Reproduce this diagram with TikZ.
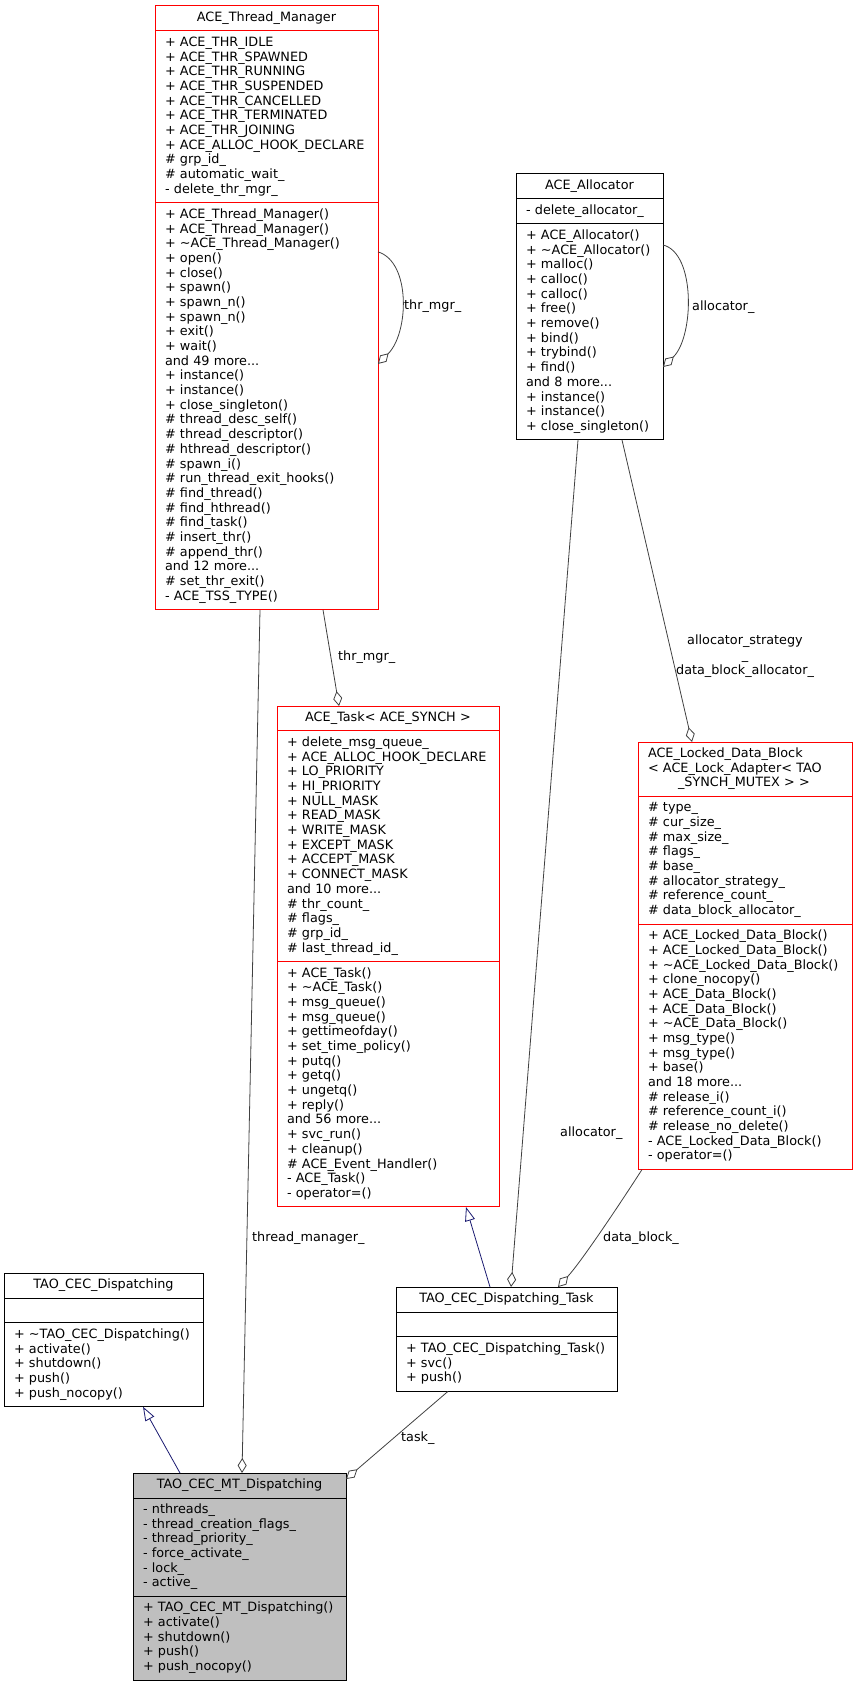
\documentclass[tikz,border=0pt]{standalone}
\usepackage{fontspec}
\setmainfont{DejaVu Sans}
\usetikzlibrary{positioning, arrows.meta}
\definecolor{edgegray}{HTML}{404040}
\definecolor{inhblue}{HTML}{191970}
\newcommand{\ufont}{\fontsize{12.8}{14.69}\selectfont}
\newcommand{\umlclass}[7][]{%
  \node[title, text width=#4-20, #1] (#2) at (#3) {#5};
  \node[members, text width=#4-20, below=0pt of #2, #1] (#2-a) {#6};
  \node[members, text width=#4-20, below=0pt of #2-a, #1] (#2-m) {#7};}

\begin{document}
\begin{tikzpicture}[x=1pt, y=-1pt,
  sect/.style={draw, line width=1pt, outer sep=0pt, inner xsep=10pt, inner ysep=5.15pt, font=\ufont, execute at end node=\strut},
  title/.style={sect, anchor=north west, align=center, execute at begin node=\strut},
  members/.style={sect, align=left, execute at begin node={\rightskip=-20pt plus 1fil\strut}},
  agg/.style={edgegray, line width=0.8pt, -{Diamond[open, length=15pt, width=9pt]}},
  inh/.style={inhblue, line width=0.8pt, -{Triangle[open, length=14pt, width=10pt]}},
  lbl/.style={font=\ufont, inner sep=0pt, anchor=west}]
\useasboundingbox (0,0) rectangle (857,1688);

\umlclass[draw=red]{mgr}{155,6}{223}{ACE\_Thread\_Manager}
 {+ ACE\_THR\_IDLE\\+ ACE\_THR\_SPAWNED\\+ ACE\_THR\_RUNNING\\+ ACE\_THR\_SUSPENDED\\+ ACE\_THR\_CANCELLED\\+ ACE\_THR\_TERMINATED\\+ ACE\_THR\_JOINING\\+ ACE\_ALLOC\_HOOK\_DECLARE\\\# grp\_id\_\\\# automatic\_wait\_\\- delete\_thr\_mgr\_}
 {+ ACE\_Thread\_Manager()\\+ ACE\_Thread\_Manager()\\+ \textasciitilde ACE\_Thread\_Manager()\\+ open()\\+ close()\\+ spawn()\\+ spawn\_n()\\+ spawn\_n()\\+ exit()\\+ wait()\\and 49 more...\\+ instance()\\+ instance()\\+ close\_singleton()\\\# thread\_desc\_self()\\\# thread\_descriptor()\\\# hthread\_descriptor()\\\# spawn\_i()\\\# run\_thread\_exit\_hooks()\\\# find\_thread()\\\# find\_hthread()\\\# find\_task()\\\# insert\_thr()\\\# append\_thr()\\and 12 more...\\\# set\_thr\_exit()\\- ACE\_TSS\_TYPE()}

\umlclass{alloc}{516,174}{147}{ACE\_Allocator}
 {- delete\_allocator\_}
 {+ ACE\_Allocator()\\+ \textasciitilde ACE\_Allocator()\\+ malloc()\\+ calloc()\\+ calloc()\\+ free()\\+ remove()\\+ bind()\\+ trybind()\\+ find()\\and 8 more...\\+ instance()\\+ instance()\\+ close\_singleton()}

\umlclass[draw=red]{task}{277,706}{222}{ACE\_Task< ACE\_SYNCH >}
 {+ delete\_msg\_queue\_\\+ ACE\_ALLOC\_HOOK\_DECLARE\\+ LO\_PRIORITY\\+ HI\_PRIORITY\\+ NULL\_MASK\\+ READ\_MASK\\+ WRITE\_MASK\\+ EXCEPT\_MASK\\+ ACCEPT\_MASK\\+ CONNECT\_MASK\\and 10 more...\\\# thr\_count\_\\\# flags\_\\\# grp\_id\_\\\# last\_thread\_id\_}
 {+ ACE\_Task()\\+ \textasciitilde ACE\_Task()\\+ msg\_queue()\\+ msg\_queue()\\+ gettimeofday()\\+ set\_time\_policy()\\+ putq()\\+ getq()\\+ ungetq()\\+ reply()\\and 56 more...\\+ svc\_run()\\+ cleanup()\\\# ACE\_Event\_Handler()\\- ACE\_Task()\\- operator=()}

\umlclass[draw=red, align=left]{ldb}{638,742}{214}{ACE\_Locked\_Data\_Block\\< ACE\_Lock\_Adapter< TAO\\\hspace*{30pt}\_SYNCH\_MUTEX > >}
 {\# type\_\\\# cur\_size\_\\\# max\_size\_\\\# flags\_\\\# base\_\\\# allocator\_strategy\_\\\# reference\_count\_\\\# data\_block\_allocator\_}
 {+ ACE\_Locked\_Data\_Block()\\+ ACE\_Locked\_Data\_Block()\\+ \textasciitilde ACE\_Locked\_Data\_Block()\\+ clone\_nocopy()\\+ ACE\_Data\_Block()\\+ ACE\_Data\_Block()\\+ \textasciitilde ACE\_Data\_Block()\\+ msg\_type()\\+ msg\_type()\\+ base()\\and 18 more...\\\# release\_i()\\\# reference\_count\_i()\\\# release\_no\_delete()\\- ACE\_Locked\_Data\_Block()\\- operator=()}

\umlclass{disp}{4,1273}{199}{TAO\_CEC\_Dispatching}
 {}
 {+ \textasciitilde TAO\_CEC\_Dispatching()\\+ activate()\\+ shutdown()\\+ push()\\+ push\_nocopy()}

\umlclass{dtask}{396,1287}{221}{TAO\_CEC\_Dispatching\_Task}
 {}
 {+ TAO\_CEC\_Dispatching\_Task()\\+ svc()\\+ push()}

\umlclass[fill=black!25]{mt}{133,1473}{213}{TAO\_CEC\_MT\_Dispatching}
 {- nthreads\_\\- thread\_creation\_flags\_\\- thread\_priority\_\\- force\_activate\_\\- lock\_\\- active\_}
 {+ TAO\_CEC\_MT\_Dispatching()\\+ activate()\\+ shutdown()\\+ push()\\+ push\_nocopy()}

\draw[agg] ([yshift=-49]mgr-m.north east) .. controls +(33,10) and +(31,-31) .. ([yshift=-161]mgr-m.north east);
\node[lbl] (l-mgrself) at (404,306) {thr\_mgr\_};
\draw[agg] ([yshift=-21]alloc-m.north east) .. controls +(33,8) and +(31,-30) .. ([yshift=-143]alloc-m.north east);
\node[lbl] (l-allocself) at (692,307) {allocator\_};

\draw[agg] ([xshift=56.5]mgr-m.south) -- ([xshift=-49]task.north);
\node[lbl] (l-thrmgr) at (338,657) {thr\_mgr\_};
\draw[agg] ([xshift=-6.5]mgr-m.south) -- ([xshift=2.5]mt.north);
\node[lbl] (l-thread) at (252,1238) {thread\_manager\_};
\draw[agg] ([xshift=-11.5]alloc-m.south) -- ([xshift=4.5]dtask.north);
\node[lbl] (l-alloc) at (560,1133) {allocator\_};
\draw[agg] ([xshift=32.5]alloc-m.south) -- ([xshift=-53]ldb.north);
\node[lbl, anchor=center, align=center] (l-strat) at (745,656) {allocator\_strategy\\\_\\data\_block\_allocator\_};
\draw[agg] ([xshift=-103]ldb-m.south) .. controls +(-18,28) and +(24,-26) .. ([xshift=51.5]dtask.north);
\node[lbl] (l-data) at (603,1238) {data\_block\_};
\draw[agg] ([xshift=-58.5]dtask-m.south) -- ([yshift=-6]mt.north east);
\node[lbl] (l-task) at (401,1438) {task\_};

\draw[inh] ([xshift=-16.5]dtask.north) -- ([xshift=78]task-m.south);
\draw[inh] ([xshift=-59.5]mt.north) -- ([xshift=39.5]disp-m.south);
\end{tikzpicture}
\end{document}
